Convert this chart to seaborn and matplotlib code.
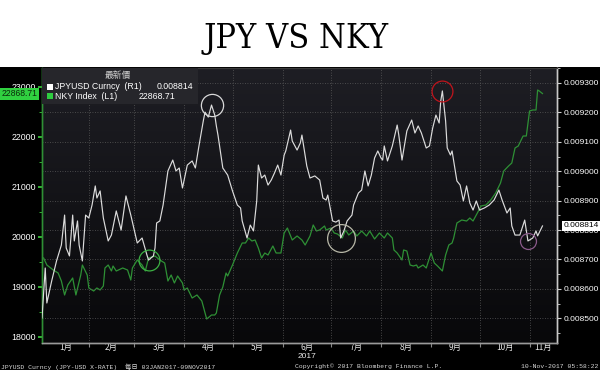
import matplotlib
matplotlib.use("Agg")
import matplotlib.pyplot as plt
import matplotlib.dates as mdates
from matplotlib.ticker import MultipleLocator, FormatStrFormatter, NullFormatter
from matplotlib.patches import Rectangle
from matplotlib.colors import LinearSegmentedColormap
from matplotlib.transforms import blended_transform_factory
import numpy as np
import pandas as pd
import seaborn as sns

# ---------------- data ----------------
jpy_dates = [
    "01-03", "01-05", "01-06", "01-09", "01-12", "01-15", "01-17", "01-18", "01-20", "01-22",
    "01-23", "01-25", "01-26", "01-28", "01-30", "02-01", "02-03", "02-05", "02-06", "02-08",
    "02-10", "02-13", "02-15", "02-18", "02-21", "02-24", "02-27", "03-03", "03-06", "03-09",
    "03-10", "03-13", "03-14", "03-15", "03-17", "03-19", "03-22", "03-25", "03-27", "03-29",
    "03-31", "04-03", "04-06", "04-08", "04-10", "04-13", "04-14", "04-16", "04-18", "04-20",
    "04-21", "04-22", "04-25", "04-28", "05-01", "05-04", "05-06", "05-07", "05-10", "05-12",
    "05-14", "05-16", "05-17", "05-19", "05-21", "05-23", "05-25", "05-27", "05-29", "05-31",
    "06-02", "06-03", "06-06", "06-07", "06-10", "06-12", "06-13", "06-16", "06-18", "06-21",
    "06-24", "06-26", "06-28", "06-29", "07-02", "07-04", "07-06", "07-07", "07-09", "07-11",
    "07-14", "07-15", "07-18", "07-20", "07-22", "07-24", "07-26", "07-28", "07-30", "08-01",
    "08-02", "08-03", "08-05", "08-08", "08-11", "08-12", "08-14", "08-17", "08-20", "08-22",
    "08-24", "08-26", "08-29", "08-31", "09-02", "09-04", "09-06", "09-07", "09-08", "09-10",
    "09-11", "09-13", "09-14", "09-17", "09-19", "09-21", "09-23", "09-25", "09-27", "09-29",
    "10-01", "10-04", "10-07", "10-10", "10-13", "10-15", "10-18", "10-20", "10-21", "10-23",
    "10-26", "10-29", "10-31", "11-03", "11-05", "11-06", "11-09",
]
jpy_values = [
    0.008501, 0.008671, 0.008552, 0.008627, 0.008695, 0.008749, 0.008851, 0.008739, 0.008712, 0.008851,
    0.008763, 0.008831, 0.008749, 0.008695, 0.008851, 0.008841, 0.008885, 0.008950, 0.008909, 0.008933,
    0.008841, 0.008763, 0.008783, 0.008865, 0.008800, 0.008916, 0.008851, 0.008756, 0.008773, 0.008715,
    0.008698, 0.008712, 0.008739, 0.008824, 0.008831, 0.008885, 0.009001, 0.009038, 0.009001, 0.009011,
    0.008943, 0.009021, 0.009035, 0.009011, 0.009079, 0.009174, 0.009201, 0.009184, 0.009225, 0.009191,
    0.009154, 0.009123, 0.009011, 0.008987, 0.008933, 0.008885, 0.008875, 0.008831, 0.008773, 0.008817,
    0.008797, 0.008899, 0.009021, 0.008977, 0.008987, 0.008953, 0.008970, 0.008994, 0.009021, 0.008987,
    0.009055, 0.009069, 0.009140, 0.009103, 0.009072, 0.009096, 0.009123, 0.009018, 0.008977, 0.008984,
    0.008970, 0.008909, 0.008902, 0.008919, 0.008831, 0.008827, 0.008834, 0.008773, 0.008797, 0.008831,
    0.008851, 0.008885, 0.008926, 0.008936, 0.009001, 0.008950, 0.008987, 0.009045, 0.009069, 0.009045,
    0.009038, 0.009086, 0.009035, 0.009086, 0.009157, 0.009123, 0.009038, 0.009137, 0.009174, 0.009130,
    0.009154, 0.009130, 0.009079, 0.009086, 0.009147, 0.009191, 0.009164, 0.009239, 0.009273, 0.009171,
    0.009079, 0.009055, 0.009069, 0.008967, 0.008953, 0.008899, 0.008950, 0.008892, 0.008868, 0.008899,
    0.008868, 0.008875, 0.008885, 0.008902, 0.008936, 0.008902, 0.008858, 0.008875, 0.008814, 0.008783,
    0.008783, 0.008834, 0.008763, 0.008773, 0.008797, 0.008780, 0.008814,
]

nky_dates = [
    "01-04", "01-06", "01-10", "01-13", "01-15", "01-17", "01-19", "01-22", "01-24", "01-27",
    "01-28", "01-31", "02-01", "02-04", "02-06", "02-08", "02-10", "02-11", "02-13", "02-15",
    "02-16", "02-18", "02-22", "02-25", "02-27", "02-28", "03-03", "03-06", "03-08", "03-10",
    "03-14", "03-17", "03-20", "03-22", "03-24", "03-26", "03-28", "03-31", "04-01", "04-03",
    "04-06", "04-09", "04-12", "04-15", "04-18", "04-20", "04-21", "04-23", "04-25", "04-27",
    "04-28", "05-01", "05-04", "05-07", "05-09", "05-11", "05-13", "05-15", "05-17", "05-19",
    "05-21", "05-23", "05-26", "05-28", "05-31", "06-02", "06-04", "06-06", "06-07", "06-10",
    "06-13", "06-15", "06-18", "06-20", "06-22", "06-24", "06-27", "06-28", "07-01", "07-03",
    "07-05", "07-08", "07-10", "07-12", "07-15", "07-17", "07-20", "07-23", "07-25", "07-28",
    "07-31", "08-03", "08-05", "08-08", "08-09", "08-11", "08-14", "08-15", "08-17", "08-19",
    "08-21", "08-23", "08-24", "08-27", "08-29", "08-31", "09-01", "09-03", "09-05", "09-08",
    "09-10", "09-12", "09-14", "09-15", "09-17", "09-20", "09-23", "09-25", "09-27", "09-29",
    "10-02", "10-05", "10-08", "10-11", "10-14", "10-16", "10-19", "10-21", "10-23", "10-25",
    "10-28", "10-30", "11-01", "11-03", "11-05", "11-06", "11-07", "11-09",
]
nky_values = [
    19580, 19440, 19340, 19280, 19120, 18840, 19040, 19180, 18840, 19240,
    19440, 19240, 18980, 18920, 18980, 18940, 19020, 19380, 19440, 19320,
    19420, 19320, 19380, 19340, 19140, 19380, 19540, 19440, 19320, 19580,
    19620, 19540, 19480, 19120, 19240, 19080, 19220, 19080, 18940, 18980,
    18780, 18840, 18720, 18360, 18440, 18440, 18480, 18840, 19000, 19280,
    19220, 19440, 19680, 19880, 19880, 19980, 19920, 19940, 19780, 19580,
    19680, 19640, 19820, 19680, 19680, 20080, 20180, 20020, 19940, 20020,
    19940, 19840, 20020, 20240, 20120, 20140, 20220, 20140, 20180, 20080,
    20060, 19980, 20140, 20040, 20120, 20020, 20120, 20020, 20120, 19960,
    20080, 19980, 20080, 19980, 19740, 19680, 19540, 19740, 19720, 19440,
    19420, 19440, 19380, 19440, 19380, 19580, 19680, 19480, 19420, 19320,
    19640, 19840, 19880, 19980, 20280, 20340, 20320, 20380, 20320, 20440,
    20620, 20640, 20740, 20880, 21080, 21320, 21420, 21480, 21780, 21820,
    22020, 22020, 22520, 22540, 22540, 22940, 22920, 22868.71,
]

month_labels = ["1月", "2月", "3月", "4月", "5月", "6月", "7月", "8月", "9月", "10月", "11月"]
year_label = "2017"

circle_dates = ["04-18", "03-10", "07-07", "09-08", "10-31"]
circle_colors = ["#d8d8d8", "#3cb043", "#b8b8a8", "#c0141c", "#8a5a8a"]
circle_sizes = [16, 15, 20, 15, 11.5]

title_text = "JPY VS NKY"
legend_header = "最新價"
jpy_name = "JPYUSD Curncy  (R1)"
nky_name = "NKY Index  (L1)"
footer_left = "JPYUSD Curncy (JPY-USD X-RATE)  每日 03JAN2017-09NOV2017"
footer_mid = "Copyright© 2017 Bloomberg Finance L.P."
footer_right = "10-Nov-2017 05:58:22"

# ---------------- frames ----------------
df_jpy = pd.DataFrame({"date": pd.to_datetime(["2017-" + d for d in jpy_dates]), "value": jpy_values})
df_nky = pd.DataFrame({"date": pd.to_datetime(["2017-" + d for d in nky_dates]), "value": nky_values})

GREEN = "#2e9035"
WHITE_LINE = "#dcdcdc"
CJK = ["Noto Sans CJK TC", "DejaVu Sans"]
SANS = ["Liberation Sans", "Noto Sans CJK TC"]

fig = plt.figure(figsize=(6, 3.7), dpi=100, facecolor="black")
fig.patches.append(Rectangle((0, 1 - 67 / 370), 1, 67 / 370, transform=fig.transFigure,
                             facecolor="white", edgecolor="none", zorder=0))

ax = fig.add_axes([42 / 600, 27 / 370, 515 / 600, 275 / 370])
ax.set_facecolor("#121216")

sns.lineplot(data=df_nky, x="date", y="value", ax=ax, color=GREEN, linewidth=0.9)

ax2 = ax.twinx()
sns.lineplot(data=df_jpy, x="date", y="value", ax=ax2, color=WHITE_LINE, linewidth=0.85, zorder=3)

xmin, xmax = pd.Timestamp("2017-01-03"), pd.Timestamp("2017-11-18")

# background gradient
grad = np.linspace(0, 1, 256).reshape(-1, 1)
cmap = LinearSegmentedColormap.from_list("bg", ["#1e1e24", "#08080a"])
ax.imshow(grad, cmap=cmap, extent=[0, 1, 0, 1], transform=ax.transAxes, aspect="auto", zorder=-10)

ax.set_xlim(xmin, xmax)
ax.set_ylim(17880, 23380)
ax2.set_ylim(0.008416, 0.009351)

# x axis: month boundaries and mid-month labels
ax.xaxis.set_major_locator(mdates.MonthLocator())
ax.xaxis.set_major_formatter(NullFormatter())
starts = [pd.Timestamp(f"2017-{m:02d}-01") for m in range(2, 12)]
bounds = [xmin] + starts + [xmax]
mids = [mdates.date2num(a) + (mdates.date2num(b) - mdates.date2num(a)) / 2 for a, b in zip(bounds[:-1], bounds[1:])]
ax.set_xticks(mids, labels=month_labels, minor=True, family=CJK, fontsize=6.0, color="#e8e8e8")
ax.tick_params(axis="x", which="major", length=3, color="#888888", direction="out")
ax.tick_params(axis="x", which="minor", length=0, pad=0.2)
trans = blended_transform_factory(ax.transData, ax.transAxes)
ax.text(mids[5], -0.049, year_label, transform=trans, ha="center", va="center",
        fontsize=6.0, color="#e8e8e8", family=SANS)

# left axis (NKY)
ax.set_yticks(range(18000, 23001, 1000))
ax.yaxis.set_minor_locator(MultipleLocator(500))
ax.yaxis.set_major_formatter(FormatStrFormatter("%d"))
ax.tick_params(axis="y", which="both", colors="#3ed03e", labelcolor="white", labelsize=6.3,
               direction="out", pad=1.5)
ax.tick_params(axis="y", which="major", length=3, width=1.2)
ax.tick_params(axis="y", which="minor", length=2)
for lab in ax.get_yticklabels():
    lab.set_family(SANS)

# right axis (JPYUSD)
ax2.set_yticks([0.0085 + i * 0.0001 for i in range(9)])
ax2.yaxis.set_minor_locator(MultipleLocator(0.00005))
ax2.yaxis.set_major_formatter(FormatStrFormatter("%.6f"))
ax2.tick_params(axis="y", which="both", colors="#d0d0d0", labelcolor="white", labelsize=6.0,
                direction="out", pad=1.5)
ax2.tick_params(axis="y", which="major", length=3)
ax2.tick_params(axis="y", which="minor", length=2)
for lab in ax2.get_yticklabels():
    lab.set_family(SANS)

for a in (ax, ax2):
    a.set_xlabel("")
    a.set_ylabel("")

# grids
ax.grid(axis="x", which="major", linestyle=(0, (1, 2)), color="#5a5a5a", linewidth=0.6)
ax.grid(axis="y", visible=False)
ax2.grid(axis="y", which="major", linestyle=(0, (1, 2)), color="#5a5a5a", linewidth=0.6)
ax2.set_axisbelow(True)

# spines
for a in (ax, ax2):
    a.spines["top"].set_color("#3a3a3a")
    a.spines["bottom"].set_color("#9a9a9a")
    a.spines["left"].set_color("#2f8f35")
    a.spines["right"].set_color("#c8c8c8")
    a.spines["top"].set_linewidth(0.8)
    a.spines["left"].set_linewidth(1.0)
    a.spines["right"].set_linewidth(1.0)
    a.spines["bottom"].set_linewidth(1.0)

# highlight circles on the JPY series
jpy_lookup = dict(zip(df_jpy["date"], df_jpy["value"]))
for d, c, s in zip(circle_dates, circle_colors, circle_sizes):
    t = pd.Timestamp("2017-" + d)
    ax2.plot([t], [jpy_lookup[t]], marker="o", markersize=s, markerfacecolor="none",
             markeredgecolor=c, markeredgewidth=0.9, linestyle="none", zorder=4)

# legend box
ax2.add_patch(Rectangle((0, 0.869), 0.303, 0.131, transform=ax2.transAxes,
                        facecolor="#26262b", edgecolor="none", zorder=5))
ax2.text(0.148, 0.973, legend_header, transform=ax2.transAxes, ha="center", va="center",
         fontsize=6.3, color="#d0d0d0", family=CJK, zorder=6)
last_jpy = jpy_values[-1]
last_nky = nky_values[-1]
rows = [(0.931, "white", jpy_name, f"{last_jpy:.6f}", 0.293),
        (0.898, "#2ecc40", nky_name, f"{last_nky:.2f}", 0.258)]
for yy, col, name, val, xr in rows:
    ax2.add_patch(Rectangle((0.0097, yy - 0.011), 0.0117, 0.022, transform=ax2.transAxes,
                            facecolor=col, edgecolor="none", zorder=6))
    ax2.text(0.025, yy, name, transform=ax2.transAxes, ha="left", va="center",
             fontsize=6.3, color="white", family=SANS, zorder=6)
    ax2.text(xr, yy, val, transform=ax2.transAxes, ha="right", va="center",
             fontsize=6.3, color="white", family=SANS, zorder=6)

# last value tags on axes
tl = blended_transform_factory(ax.transAxes, ax.transData)
ax.text(-0.008, last_nky, f"{last_nky:.2f}", transform=tl, ha="right", va="center",
        fontsize=6.2, color="#0a2a0a", family=SANS, clip_on=False, zorder=10,
        bbox=dict(boxstyle="square,pad=0.18", facecolor="#30d040", edgecolor="none"))
tr = blended_transform_factory(ax2.transAxes, ax2.transData)
ax2.text(1.012, last_jpy, f"{last_jpy:.6f}", transform=tr, ha="left", va="center",
         fontsize=6.0, color="black", family=SANS, clip_on=False, zorder=10,
         bbox=dict(boxstyle="square,pad=0.18", facecolor="white", edgecolor="none"))

# title and footer
fig.text(0.493, 1 - 48 / 370, title_text, ha="center", va="baseline", fontsize=24.5,
         family="DejaVu Serif", fontstretch="condensed", color="black")
MONO = ["Liberation Mono", "Noto Sans CJK SC"]
fig.text(0.002, 0.009, footer_left, ha="left", va="center", fontsize=4.6, family=MONO, color="#d8d8d8")
fig.text(0.492, 0.009, footer_mid, ha="left", va="center", fontsize=4.6, family=MONO, color="#d8d8d8")
fig.text(0.998, 0.009, footer_right, ha="right", va="center", fontsize=4.6, family=MONO, color="#d8d8d8")

fig.savefig("out.png", dpi=100, facecolor=fig.get_facecolor())
